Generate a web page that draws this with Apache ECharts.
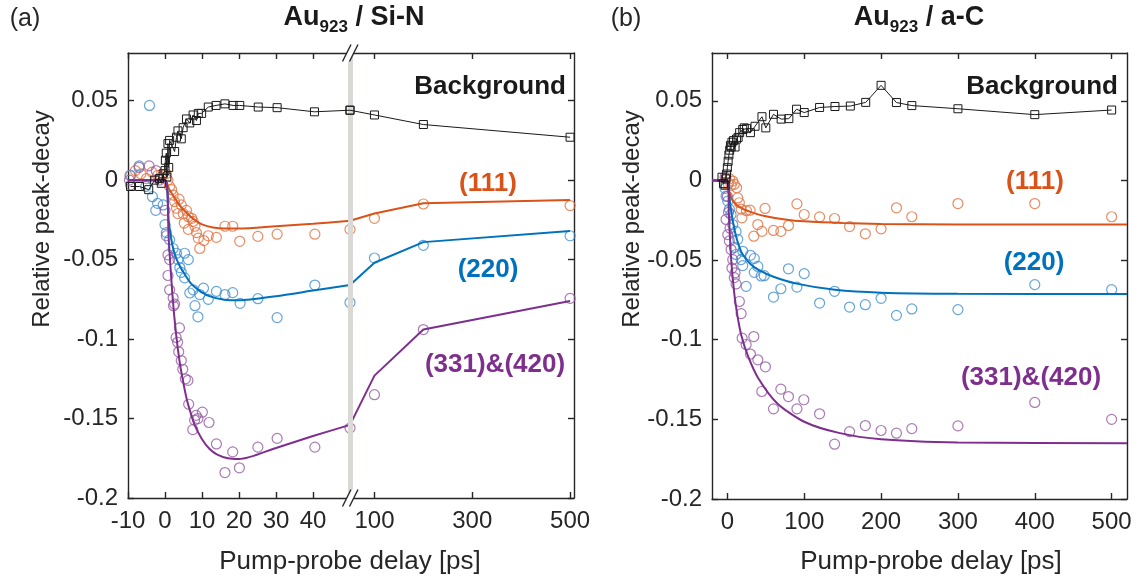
<!DOCTYPE html>
<html><head><meta charset="utf-8">
<script src="https://cdn.jsdelivr.net/npm/echarts@6/dist/echarts.min.js"></script>
<style>html,body{margin:0;padding:0;background:#fff}#c{width:1136px;height:578px}</style>
</head><body><div id="c"></div><script>
// ---------- DATA (x = pump-probe delay [ps], y = relative peak-decay) ----------
// Panel (a): Au923 / Si-N  (broken x axis at 50 ps)
const siN_bg = [[-9.3,-0.004],[-6.9,-0.004],[-4.4,-0.006],[-2.8,0],[-1.5,0.001],[-1,-0.002],[-0.5,0.004],[0,0.006],[0.1,0.0125],[0.35,0.017],[0.5,0.002],[0.8,0.023],[1,0.008],[1.25,0.025],[2.6,0.018],[3.1,0.027],[3.5,0.031],[4.4,0.026],[4.9,0.033],[5.8,0.0385],[6.7,0.036],[7.6,0.041],[8.5,0.0375],[9,0.042],[9.9,0.042],[11.7,0.046],[13.8,0.047],[16.2,0.048],[18.4,0.047],[20.2,0.047],[25.2,0.046],[30.3,0.0456],[40.4,0.043],[50,0.044],[100,0.041],[200,0.035],[500,0.027]];
const siN_111 = [[-9.5,0.003],[-8,0.006],[-6.5,0.004],[-5,0.001],[-3.5,0.005],[-2,0.003],[-1,0.002],[0.3,0.004],[0.8,0],[1.25,-0.004],[1.8,-0.006],[2.2,-0.0094],[2.6,-0.0135],[3.1,-0.0177],[3.5,-0.021],[3.8,-0.012],[4.4,-0.0156],[4.9,-0.021],[5.2,-0.027],[5.8,-0.019],[6.3,-0.023],[6.3,-0.031],[7.2,-0.024],[7.6,-0.026],[8.1,-0.029],[8.5,-0.033],[9,-0.0365],[9.4,-0.043],[10.5,-0.038],[11.7,-0.035],[13.9,-0.036],[16.2,-0.029],[18.3,-0.029],[20.2,-0.0385],[25.1,-0.0354],[30.3,-0.034],[40.5,-0.034],[50,-0.031],[100,-0.024],[200,-0.015],[500,-0.016]];
const siN_220 = [[-9.3,0.003],[-7,0.009],[-5.2,-0.004],[-4.2,0.047],[-3.4,-0.0104],[-2.5,-0.019],[-2,-0.0146],[-0.5,-0.0156],[0,-0.028],[0.35,-0.033],[1.25,-0.0375],[2.2,-0.043],[3.1,-0.046],[3.5,-0.05],[4,-0.055],[4.4,-0.058],[5.3,-0.0615],[5.3,-0.046],[6.3,-0.05],[6.7,-0.071],[7.6,-0.069],[8.1,-0.079],[8.9,-0.086],[9.4,-0.072],[10.4,-0.068],[11.7,-0.075],[13.9,-0.070],[16.2,-0.072],[18.3,-0.0708],[20.3,-0.0775],[25.1,-0.0746],[30.3,-0.0865],[40.5,-0.066],[50,-0.077],[100,-0.049],[200,-0.041],[500,-0.035]];
const siN_331 = [[-9.6,0],[-9.3,-0.003],[-7,0.008],[-4.3,0.009],[-2.4,0.006],[-1.5,0],[0,-0.019],[0.35,-0.035],[0.8,-0.047],[1.25,-0.05],[0.8,-0.06],[1.25,-0.069],[2.2,-0.074],[2.6,-0.078],[2.3,-0.079],[3.9,-0.093],[3,-0.099],[3.4,-0.102],[3.7,-0.108],[4.4,-0.1135],[4.8,-0.119],[5.5,-0.125],[6.2,-0.126],[6.4,-0.141],[7.5,-0.157],[8,-0.151],[8.4,-0.148],[8.9,-0.150],[10.1,-0.146],[11.9,-0.1525],[13.9,-0.166],[16.2,-0.184],[18.3,-0.171],[20.1,-0.181],[25.1,-0.168],[30.3,-0.1625],[40.5,-0.168],[50,-0.156],[100,-0.135],[200,-0.094],[500,-0.0744]];
const siN_fit111 = [[-10,0],[0,0],[1,-0.005],[2,-0.009],[3,-0.0125],[4,-0.016],[6,-0.021],[8,-0.025],[10,-0.0278],[13,-0.0298],[16,-0.0305],[20,-0.0305],[30,-0.029],[40,-0.0275],[50,-0.0256],[100,-0.021],[200,-0.0145],[500,-0.0125]];
const siN_fit220 = [[-10,0],[0,0],[1,-0.026],[2,-0.041],[3,-0.049],[4,-0.054],[5,-0.058],[7,-0.065],[9,-0.069],[12,-0.073],[16,-0.0752],[20,-0.0756],[30,-0.073],[40,-0.0695],[50,-0.066],[100,-0.052],[200,-0.039],[500,-0.032]];
const siN_fit331 = [[-10,0],[0,0],[1,-0.037],[2,-0.072],[3,-0.097],[4,-0.115],[5,-0.128],[6,-0.139],[7,-0.147],[8,-0.154],[10,-0.163],[12,-0.169],[14,-0.1725],[17,-0.175],[20,-0.1755],[30,-0.1685],[40,-0.161],[50,-0.154],[100,-0.123],[200,-0.094],[500,-0.076]];

// Panel (b): Au923 / a-C
const aC_bg = [[-7,0.002],[-5,-0.002],[-3,-0.003],[-2,0.001],[-1,0.004],[0,0.008],[1,0.012],[2,0.016],[3,0.019],[4,0.022],[5,0.021],[6,0.024],[8,0.025],[10,0.021],[12,0.026],[14,0.027],[16,0.030],[20,0.032],[22,0.033],[25,0.0325],[30,0.030],[36,0.034],[45,0.040],[50,0.033],[60,0.0415],[70,0.0385],[80,0.0388],[90,0.0447],[100,0.0426],[120,0.0458],[140,0.0464],[160,0.0467],[180,0.049],[200,0.0597],[220,0.0489],[240,0.047],[300,0.045],[400,0.0413],[500,0.0442]];
const aC_111 = [[-4,-0.002],[-2,0.001],[1,-0.002],[3,0.001],[5,-0.003],[7,-0.0004],[9,-0.0025],[12,-0.0046],[13.5,-0.011],[15.6,-0.014],[17.9,-0.018],[19,-0.0235],[24.8,-0.019],[29.6,-0.0187],[34.4,-0.035],[39.6,-0.0277],[45,-0.032],[49,-0.0176],[60,-0.0314],[69.6,-0.032],[79.5,-0.0283],[90.5,-0.0147],[100,-0.0214],[120,-0.0229],[139.5,-0.0239],[159,-0.029],[179.5,-0.0335],[200,-0.0304],[220,-0.0172],[240,-0.0228],[300,-0.0145],[400,-0.0145],[500,-0.0228]];
const aC_220 = [[-3,-0.005],[-1.7,-0.0099],[0.5,-0.013],[2.6,-0.018],[4.8,-0.0214],[7,-0.0277],[9,-0.042],[11.3,-0.032],[11.3,-0.0465],[13.5,-0.037],[17.9,-0.0497],[20,-0.0445],[20,-0.0535],[24.4,-0.0665],[30,-0.047],[35,-0.049],[35,-0.0577],[39.6,-0.054],[44,-0.060],[48,-0.0598],[60,-0.0732],[69.6,-0.068],[79.5,-0.0555],[90.5,-0.067],[100,-0.0585],[120,-0.077],[139.5,-0.0696],[159,-0.0795],[179.5,-0.078],[200,-0.074],[220,-0.0847],[240,-0.0807],[300,-0.0811],[400,-0.0654],[500,-0.0686]];
const aC_331 = [[-3,0.002],[-1.7,-0.0245],[0,-0.01],[0.5,-0.034],[1.5,-0.02],[2.6,-0.038],[3.5,-0.03],[4.8,-0.0434],[6,-0.055],[7,-0.0497],[9,-0.061],[10,-0.058],[11.3,-0.065],[15.6,-0.076],[17.9,-0.0836],[19.2,-0.099],[24.4,-0.103],[30,-0.109],[34.4,-0.098],[39.6,-0.1126],[44.8,-0.1325],[49.5,-0.117],[60,-0.1434],[69.6,-0.131],[79.5,-0.1357],[90.5,-0.1434],[99.5,-0.1377],[120,-0.1465],[139.5,-0.1656],[159,-0.1577],[179.5,-0.1539],[200,-0.157],[220,-0.1587],[240,-0.1558],[300,-0.1541],[400,-0.1394],[500,-0.150]];
const aC_fit111 = [[-20,0],[0,0],[2,-0.006],[5,-0.011],[10,-0.0145],[20,-0.0178],[35,-0.0205],[50,-0.0225],[75,-0.0245],[100,-0.0257],[150,-0.0268],[200,-0.0273],[300,-0.0276],[520,-0.0277]];
const aC_fit220 = [[-20,0],[0,0],[1,-0.004],[3,-0.012],[5,-0.0195],[10,-0.0325],[15,-0.041],[20,-0.0465],[30,-0.0525],[40,-0.056],[60,-0.0605],[90,-0.0648],[140,-0.0687],[200,-0.0705],[300,-0.0712],[520,-0.0713]];
const aC_fit331 = [[-20,0],[0,0],[2,-0.022],[5,-0.05],[9,-0.071],[13.5,-0.086],[18,-0.097],[27,-0.1105],[40,-0.124],[65,-0.140],[100,-0.1515],[145,-0.1585],[200,-0.1625],[300,-0.1645],[520,-0.165]];

// tick labels
const yTicks = [-0.2,-0.15,-0.1,-0.05,0,0.05];
const xTicksA1 = [-10,0,10,20,30,40];
const xTicksA2 = [100,300,500];
const xTicksB = [0,100,200,300,400,500];
const BREAK = 50;

// ---------- STYLE ----------
const F = "'Liberation Sans', Arial, Helvetica, sans-serif";
const AX = '#262626';
const C111 = '#D95319', C220 = '#0072BD', C331 = '#7E2F8E';
const M111 = '#E2703E', M220 = '#3E8FCF', M331 = '#955AA3';

function xAx(grid, min, max, ticks, pos, showLabel){
  return {type:'value', gridIndex:grid, min, max, position:pos,
    axisLine:{show:true,onZero:false,lineStyle:{color:AX,width:1.4}},
    axisTick:{show:true,inside:true,length:6,customValues:ticks,lineStyle:{color:AX,width:1.4}},
    axisLabel:{show:showLabel,customValues:ticks,margin:11,color:AX,fontSize:24,fontFamily:F},
    splitLine:{show:false}};
}
function yAx(grid, pos, showLabel){
  return {type:'value', gridIndex:grid, min:-0.2, max:0.08, position:pos,
    axisLine:{show:true,onZero:false,lineStyle:{color:AX,width:1.4}},
    axisTick:{show:true,inside:true,length:6,customValues:yTicks,lineStyle:{color:AX,width:1.4}},
    axisLabel:{show:showLabel,customValues:yTicks,margin:10,color:AX,fontSize:24,fontFamily:F,
      formatter:v=>String(Math.round(v*100)/100)},
    splitLine:{show:false}};
}
function scat(data,color,xi,yi){
  return {type:'scatter',xAxisIndex:xi,yAxisIndex:yi,data,symbol:'circle',symbolSize:10,silent:true,z:3,
    itemStyle:{color:'rgba(0,0,0,0)',borderColor:color,borderWidth:1.2}};
}
function fit(data,color,xi,yi,smooth){
  return {type:'line',xAxisIndex:xi,yAxisIndex:yi,data,showSymbol:false,smooth:smooth,
    silent:true,z:4,lineStyle:{color,width:2}};
}
function bgLine(data,xi,yi){
  return {type:'line',xAxisIndex:xi,yAxisIndex:yi,data,symbol:'rect',symbolSize:8,showSymbol:true,showAllSymbol:true,
    silent:true,z:5,itemStyle:{color:'rgba(0,0,0,0)',borderColor:'#1a1a1a',borderWidth:1},
    lineStyle:{color:'#1a1a1a',width:1}};
}
const low = p => p.filter(d=>d[0]<=BREAK);
const high = p => p.filter(d=>d[0]>=BREAK);
const lowS = p => p.filter(d=>d[0]<BREAK);

const series = [
  // gray band at break
  {type:'line',xAxisIndex:2,yAxisIndex:1,data:[],clip:false,z:1,silent:true,
    markLine:{silent:true,symbol:['none','none'],label:{show:false},
      lineStyle:{color:'#dad9d5',width:5,type:'solid'},data:[{xAxis:BREAK}]}},
  // panel a, left segment (xAxis 0, yAxis 0)
  scat(lowS(siN_111),M111,0,0), scat(lowS(siN_220),M220,0,0), scat(lowS(siN_331),M331,0,0),
  fit(low(siN_fit111),C111,0,0,0.25), fit(low(siN_fit220),C220,0,0,0.25), fit(low(siN_fit331),C331,0,0,0.25),
  bgLine(low(siN_bg),0,0),
  // panel a, right segment (xAxis 2, yAxis 1)
  scat(high(siN_111),M111,2,1), scat(high(siN_220),M220,2,1), scat(high(siN_331),M331,2,1),
  fit(high(siN_fit111),C111,2,1,false), fit(high(siN_fit220),C220,2,1,false), fit(high(siN_fit331),C331,2,1,false),
  bgLine(high(siN_bg),2,1),
  // panel b (xAxis 4, yAxis 2)
  scat(aC_111,M111,4,2), scat(aC_220,M220,4,2), scat(aC_331,M331,4,2),
  fit(aC_fit111,C111,4,2,0.25), fit(aC_fit220,C220,4,2,0.25), fit(aC_fit331,C331,4,2,0.25),
  bgLine(aC_bg,4,2)
];

function txt(x,y,text,size,color,opts){
  return Object.assign({type:'text',x,y,z:100,silent:true,
    style:Object.assign({text,fontSize:size,fontFamily:F,fill:color,align:'center',verticalAlign:'middle'},opts&&opts.style||{})},
    opts&&opts.el||{});
}
function title(x,y,rest){
  const b={fontSize:27,fontWeight:'bold',fontFamily:F,fill:'#1a1a1a',lineHeight:36,verticalAlign:'middle'};
  const s={fontSize:17,fontWeight:'bold',fontFamily:F,fill:'#1a1a1a',lineHeight:36,verticalAlign:'bottom'};
  return {type:'text',x,y,z:100,silent:true,style:{text:'{b|Au}{s|923}{b|'+rest+'}',align:'center',verticalAlign:'middle',rich:{b,s}}};
}
function brk(cx,cy){
  const p1=[[cx-7.5,cy+8.5],[cx+1,cy-8.5]], p2=[[cx-0.5,cy+8.5],[cx+8,cy-8.5]];
  return [
    {type:'polygon',z:100,silent:true,shape:{points:[p1[0],p1[1],p2[1],p2[0]]},style:{fill:'#fff'}},
    {type:'polyline',z:101,silent:true,shape:{points:p1},style:{stroke:AX,lineWidth:1.4,fill:null}},
    {type:'polyline',z:101,silent:true,shape:{points:p2},style:{stroke:AX,lineWidth:1.4,fill:null}}
  ];
}
const BOLD = {style:{fontWeight:'bold'}};
const graphic = [
  txt(25,19,'(a)',25,AX), txt(626,19,'(b)',25,AX),
  title(354,18,' / Si-N'), title(919,18,' / a-C'),
  txt(42,219,'Relative peak-decay',24,AX,{el:{rotation:Math.PI/2}}),
  txt(632,219,'Relative peak-decay',24,AX,{el:{rotation:Math.PI/2}}),
  txt(350,562,'Pump-probe delay [ps]',26,AX), txt(931,562,'Pump-probe delay [ps]',26,AX),
  txt(566,87,'Background',26,'#1a1a1a',{style:{fontWeight:'bold',align:'right'}}),
  txt(1118,87,'Background',26,'#1a1a1a',{style:{fontWeight:'bold',align:'right'}}),
  txt(488,184,'(111)',26,C111,BOLD), txt(488,270,'(220)',26,C220,BOLD), txt(495,365,'(331)&(420)',26,C331,BOLD),
  txt(1035,182,'(111)',26,C111,BOLD), txt(1034,263,'(220)',26,C220,BOLD), txt(1031,378,'(331)&(420)',26,C331,BOLD),
  ...brk(350,498), ...brk(350,53)
];

const option = {
  animation:false,
  backgroundColor:'#fff',
  grid:[
    {left:128,top:53,width:222,height:445},
    {left:350,top:53,width:224,height:445},
    {left:712,top:53,width:415,height:446}
  ],
  xAxis:[
    xAx(0,-10,BREAK,xTicksA1,'bottom',true),
    xAx(0,-10,BREAK,xTicksA1,'top',false),
    xAx(1,BREAK,508,xTicksA2,'bottom',true),
    xAx(1,BREAK,508,xTicksA2,'top',false),
    xAx(2,-20,520,xTicksB,'bottom',true),
    xAx(2,-20,520,xTicksB,'top',false)
  ],
  yAxis:[ yAx(0,'left',true), yAx(1,'right',false), yAx(2,'left',true), yAx(2,'right',false) ],
  series, graphic
};
const chart = echarts.init(document.getElementById('c'),null,{renderer:'canvas'});
chart.setOption(option);
</script></body></html>
